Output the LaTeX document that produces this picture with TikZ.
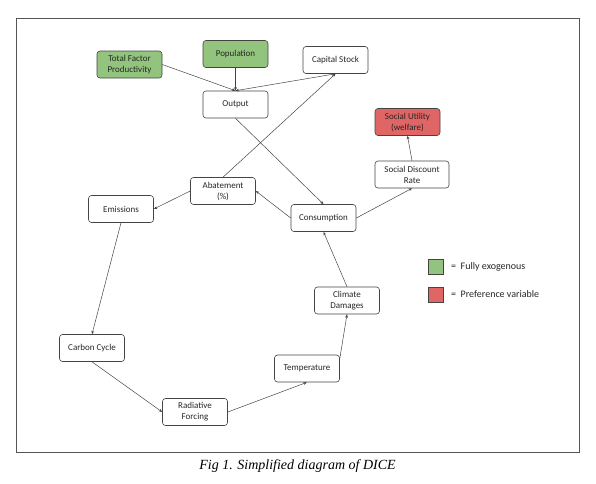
\documentclass[tikz,border=0pt]{standalone}
\usepackage{fontspec}
\setmainfont{Carlito}
\newfontfamily\capfont{Liberation Serif}
\usetikzlibrary{arrows.meta}
\definecolor{boxline}{HTML}{444444}
\definecolor{exog}{HTML}{93C47D}
\definecolor{pref}{HTML}{E06666}
\definecolor{framec}{HTML}{555555}
\tikzset{
  box/.style={draw=boxline, line width=0.6pt, rounded corners=3pt, minimum width=65pt, minimum height=27pt, align=center, inner sep=1pt, font=\fontsize{9}{11}\selectfont, text=black!85},
  exobox/.style={box, fill=exog},
  prefbox/.style={box, fill=pref},
  conn/.style={draw=boxline, line width=0.5pt, -{Stealth[length=3.5pt,width=2.8pt]}},
  legsq/.style={draw=boxline, line width=0.6pt, minimum width=15pt, minimum height=15pt, inner sep=0pt},
  legtxt/.style={anchor=west, inner sep=0pt, font=\fontsize{10}{12}\selectfont, text=black!85}
}
\begin{document}
\begin{tikzpicture}[x=1pt,y=-1pt]
\useasboundingbox (0,0) rectangle (596,483);
\draw[framec, line width=0.8pt] (16,18) rectangle (579,452);

\node[exobox] (tfp) at (129.5,64.5) {Total Factor\\Productivity};
\node[exobox] (pop) at (235.5,54) {Population};
\node[box] (output) at (235.5,104.5) {Output};
\node[box] (cap) at (335.5,60) {Capital Stock};
\node[prefbox] (su) at (407.5,122) {Social Utility\\(welfare)};
\node[box, minimum width=74pt] (sdr) at (412,174.5) {Social Discount\\Rate};
\node[box] (cons) at (323.5,218) {Consumption};
\node[box] (abat) at (223,191) {Abatement\\(\%)};
\node[box] (emis) at (121,209) {Emissions};
\node[box] (carb) at (92,348) {Carbon Cycle};
\node[box] (rf) at (195,412) {Radiative\\Forcing};
\node[box] (temp) at (307,368.5) {Temperature};
\node[box] (dam) at (347,300.5) {Climate\\Damages};

\draw[conn] (tfp.east) -- (output.north);
\draw[conn] (pop.south) -- (output.north);
\draw[conn, {Stealth[length=3.5pt,width=2.8pt]}-{Stealth[length=3.5pt,width=2.8pt]}] (output.north) -- (cap.south);
\draw[conn] (abat.north) -- (cap.south);
\draw[conn] (output.south) -- (cons.north);
\draw[conn] (cons.west) -- (abat.east);
\draw[conn] (abat.west) -- (emis.east);
\draw[conn] (emis.south) -- (carb.north);
\draw[conn] (carb.south) -- (rf.west);
\draw[conn] (rf.east) -- (temp.south);
\draw[conn] ([yshift=10pt]temp.east) -- (dam.south);
\draw[conn] (dam.north) -- (cons.south);
\draw[conn] (cons.east) -- (sdr.south);
\draw[conn] (sdr.north) -- (su.south);

\node[legsq, fill=exog] (lg) at (435.5,266.5) {};
\node[legtxt] (lgt) at (451,266.5) {=\ \ Fully exogenous};
\node[legsq, fill=pref] (lr) at (435.5,294.5) {};
\node[legtxt] (lrt) at (451,294.5) {=\ \ Preference variable};

\node[font=\capfont\itshape\fontsize{14}{16}\selectfont, inner sep=0pt] (cap1) at (297.5,466) {Fig 1. Simplified diagram of DICE};
\end{tikzpicture}
\end{document}
